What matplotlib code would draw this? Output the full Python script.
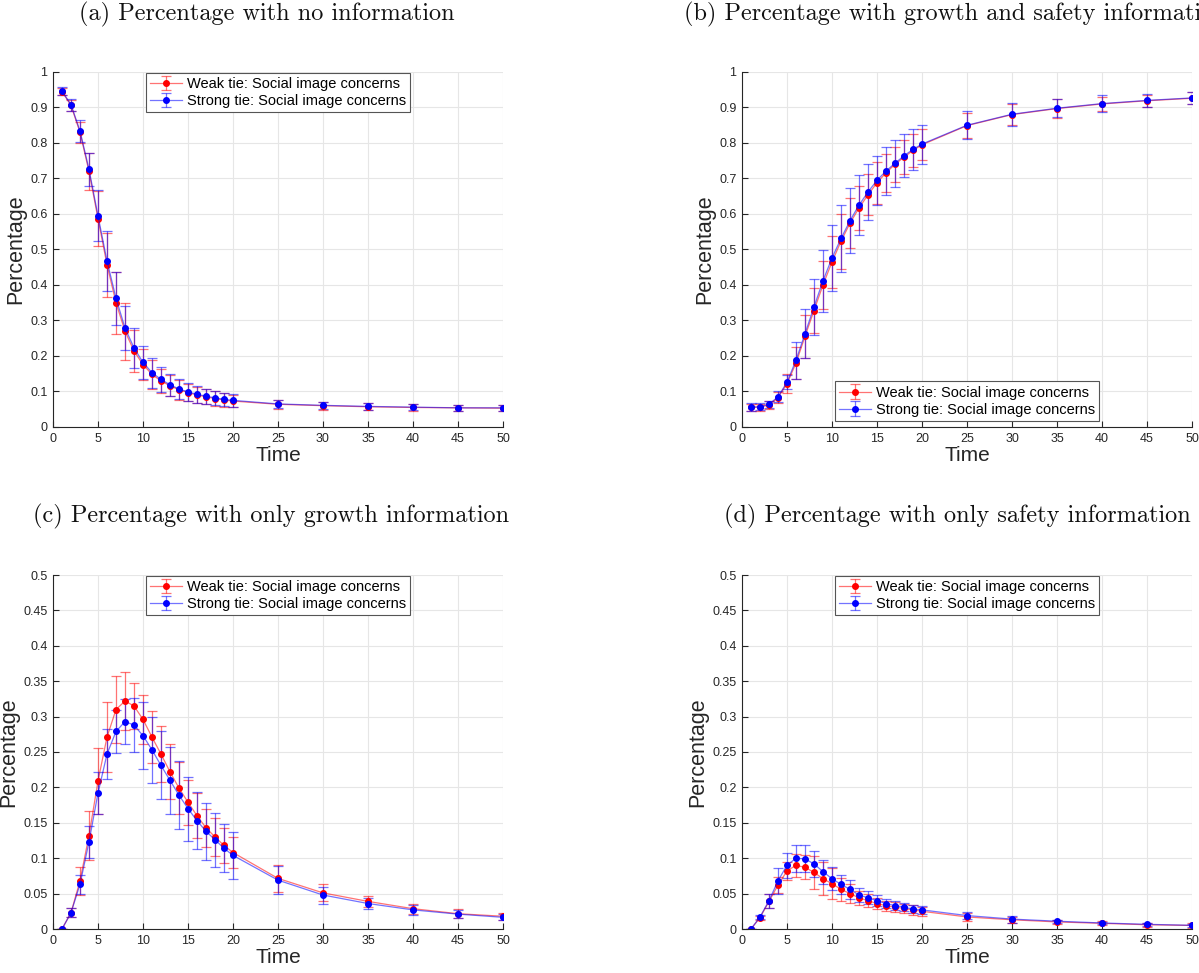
import matplotlib
matplotlib.use('Agg')
import matplotlib.pyplot as plt
from matplotlib.ticker import FormatStrFormatter, MultipleLocator

t = [1, 2, 3, 4, 5, 6, 7, 8, 9, 10, 11, 12, 13, 14, 15, 16, 17, 18, 19, 20,
     25, 30, 35, 40, 45, 50]

# (a) no information
none_weak = [0.945, 0.906, 0.830, 0.720, 0.587, 0.457, 0.350, 0.270, 0.214, 0.176,
             0.148, 0.130, 0.116, 0.105, 0.097, 0.090, 0.085, 0.080, 0.076, 0.073,
             0.064, 0.060, 0.057, 0.055, 0.054, 0.053]
none_weak_err = [0.010, 0.016, 0.030, 0.052, 0.078, 0.090, 0.087, 0.080, 0.060, 0.045,
                 0.040, 0.034, 0.030, 0.028, 0.025, 0.023, 0.021, 0.020, 0.019, 0.018,
                 0.013, 0.011, 0.010, 0.009, 0.008, 0.008]
none_strong = [0.946, 0.908, 0.834, 0.726, 0.595, 0.468, 0.363, 0.279, 0.223, 0.182,
               0.153, 0.134, 0.119, 0.107, 0.099, 0.092, 0.087, 0.082, 0.078, 0.075,
               0.065, 0.061, 0.058, 0.056, 0.054, 0.054]
none_strong_err = [0.012, 0.017, 0.032, 0.047, 0.072, 0.085, 0.075, 0.063, 0.056, 0.047,
                   0.042, 0.035, 0.031, 0.029, 0.026, 0.024, 0.021, 0.020, 0.019, 0.018,
                   0.012, 0.010, 0.009, 0.009, 0.008, 0.008]

# (b) growth and safety information
both_weak = [0.055, 0.056, 0.062, 0.083, 0.122, 0.180, 0.255, 0.328, 0.400, 0.465,
             0.523, 0.574, 0.617, 0.654, 0.688, 0.716, 0.740, 0.760, 0.779, 0.795,
             0.849, 0.880, 0.897, 0.910, 0.919, 0.926]
both_weak_err = [0.010, 0.010, 0.010, 0.016, 0.027, 0.045, 0.060, 0.063, 0.068, 0.073,
                 0.077, 0.070, 0.063, 0.058, 0.059, 0.053, 0.049, 0.048, 0.046, 0.044,
                 0.035, 0.030, 0.027, 0.020, 0.017, 0.017]
both_strong = [0.056, 0.057, 0.064, 0.085, 0.126, 0.188, 0.263, 0.338, 0.412, 0.476,
               0.531, 0.581, 0.625, 0.662, 0.695, 0.721, 0.743, 0.764, 0.782, 0.797,
               0.850, 0.881, 0.898, 0.911, 0.920, 0.927]
both_strong_err = [0.011, 0.010, 0.010, 0.015, 0.020, 0.052, 0.069, 0.078, 0.087, 0.093,
                   0.095, 0.092, 0.084, 0.080, 0.069, 0.068, 0.066, 0.060, 0.057, 0.055,
                   0.040, 0.033, 0.026, 0.023, 0.019, 0.018]

# (c) only growth information
growth_weak = [0.000, 0.023, 0.068, 0.132, 0.209, 0.271, 0.310, 0.322, 0.315, 0.296,
               0.271, 0.247, 0.222, 0.199, 0.179, 0.160, 0.143, 0.130, 0.118, 0.108,
               0.0715, 0.051, 0.039, 0.0287, 0.0216, 0.018]
growth_weak_err = [0.000, 0.006, 0.020, 0.034, 0.046, 0.049, 0.047, 0.041, 0.033, 0.035,
                   0.037, 0.040, 0.039, 0.037, 0.032, 0.032, 0.027, 0.027, 0.025, 0.022,
                   0.019, 0.012, 0.008, 0.007, 0.006, 0.005]
growth_strong = [0.000, 0.023, 0.063, 0.123, 0.192, 0.247, 0.279, 0.293, 0.288, 0.273,
                 0.253, 0.231, 0.210, 0.189, 0.170, 0.153, 0.138, 0.126, 0.114, 0.104,
                 0.069, 0.048, 0.036, 0.027, 0.021, 0.0165]
growth_strong_err = [0.000, 0.006, 0.013, 0.023, 0.030, 0.035, 0.031, 0.032, 0.038, 0.047,
                     0.047, 0.048, 0.047, 0.048, 0.045, 0.040, 0.040, 0.038, 0.034, 0.033,
                     0.020, 0.012, 0.008, 0.007, 0.006, 0.004]

# (d) only safety information
safety_weak = [0.000, 0.016, 0.039, 0.062, 0.082, 0.090, 0.087, 0.080, 0.071, 0.064,
               0.056, 0.050, 0.044, 0.040, 0.036, 0.033, 0.031, 0.029, 0.027, 0.025,
               0.017, 0.013, 0.010, 0.008, 0.006, 0.005]
safety_weak_err = [0.000, 0.003, 0.010, 0.011, 0.013, 0.016, 0.017, 0.023, 0.023, 0.022,
                   0.016, 0.013, 0.010, 0.009, 0.008, 0.007, 0.007, 0.007, 0.007, 0.006,
                   0.005, 0.004, 0.003, 0.003, 0.003, 0.003]
safety_strong = [0.000, 0.017, 0.040, 0.068, 0.090, 0.100, 0.099, 0.092, 0.081, 0.071,
                 0.063, 0.056, 0.048, 0.044, 0.040, 0.036, 0.033, 0.031, 0.028, 0.027,
                 0.019, 0.014, 0.011, 0.0085, 0.0066, 0.0052]
safety_strong_err = [0.000, 0.003, 0.010, 0.018, 0.018, 0.019, 0.019, 0.018, 0.017, 0.016,
                     0.013, 0.013, 0.010, 0.009, 0.008, 0.006, 0.006, 0.006, 0.006, 0.006,
                     0.005, 0.005, 0.002, 0.002, 0.002, 0.002]

titles = ['(a) Percentage with no information',
          '(b) Percentage with growth and safety information',
          '(c) Percentage with only growth information',
          '(d) Percentage with only safety information']
weak_label = 'Weak tie: Social image concerns'
strong_label = 'Strong tie: Social image concerns'

plt.rcParams['font.family'] = ['Liberation Sans', 'DejaVu Sans']
axcol = '#262626'

W, H = 1199, 973
fig = plt.figure(figsize=(W / 100, H / 100), dpi=100)


def px_axes(left, top, right, bottom):
    return fig.add_axes([left / W, 1 - bottom / H, (right - left) / W, (bottom - top) / H])


panels = [
    (px_axes(53, 72, 503, 427), none_weak, none_weak_err, none_strong, none_strong_err, 1.0, 0.1, 'upper'),
    (px_axes(742, 72, 1192, 427), both_weak, both_weak_err, both_strong, both_strong_err, 1.0, 0.1, 'lower'),
    (px_axes(53, 575, 503, 929), growth_weak, growth_weak_err, growth_strong, growth_strong_err, 0.5, 0.05, 'upper'),
    (px_axes(742, 575, 1192, 929), safety_weak, safety_weak_err, safety_strong, safety_strong_err, 0.5, 0.05, 'upper'),
]

for ax, wk, wk_e, st, st_e, ymax, ystep, legpos in panels:
    ax.errorbar(t, wk, yerr=wk_e, fmt='-o', color=(1, 0, 0, 0.55), ecolor=(1, 0, 0, 0.55),
                mfc='red', mec='red', ms=4, lw=0.9, elinewidth=0.9, capsize=3.6,
                capthick=0.9, label=weak_label)
    ax.errorbar(t, st, yerr=st_e, fmt='-o', color=(0, 0, 1, 0.55), ecolor=(0, 0, 1, 0.55),
                mfc='blue', mec='blue', ms=4, lw=0.9, elinewidth=0.9, capsize=3.6,
                capthick=0.9, label=strong_label)
    ax.set_xlim(0, 50)
    ax.set_ylim(0, ymax)
    ax.xaxis.set_major_locator(MultipleLocator(5))
    ax.yaxis.set_major_locator(MultipleLocator(ystep))
    ax.yaxis.set_major_formatter(FormatStrFormatter('%g'))
    ax.grid(True, color='#e6e6e6', lw=0.8)
    ax.set_axisbelow(True)
    for side in ('top', 'right'):
        ax.spines[side].set_visible(False)
    for side in ('left', 'bottom'):
        ax.spines[side].set_color(axcol)
        ax.spines[side].set_linewidth(0.8)
    ax.tick_params(direction='in', length=4, width=0.8, colors=axcol, labelsize=9, pad=4)
    ax.set_xlabel('Time', fontsize=15, color=axcol, labelpad=1)
    ax.set_ylabel('Percentage', fontsize=15.5, color=axcol, labelpad=3)
    if legpos == 'upper':
        leg = ax.legend(loc='upper center', bbox_to_anchor=(0.5, 1.0), borderaxespad=0.05,
                        fontsize=10.5, fancybox=False, framealpha=1, edgecolor='#555555',
                        handlelength=2.2, handletextpad=0.3, borderpad=0.3, labelspacing=0.2)
    else:
        leg = ax.legend(loc='lower center', bbox_to_anchor=(0.5, 0.0), borderaxespad=0.4,
                        fontsize=10.5, fancybox=False, framealpha=1, edgecolor='#555555',
                        handlelength=2.2, handletextpad=0.3, borderpad=0.3, labelspacing=0.2)
    leg.get_frame().set_linewidth(0.8)

# subfigure captions
title_pos = [(267, 14), (955, 14), (271, 516), (957, 516)]
for (x, y), txt in zip(title_pos, titles):
    fig.text(x / W, 1 - y / H, txt, ha='center', va='center', fontsize=17.5,
             family='cmr10', color='#111111')

fig.savefig('out.png', dpi=100)
